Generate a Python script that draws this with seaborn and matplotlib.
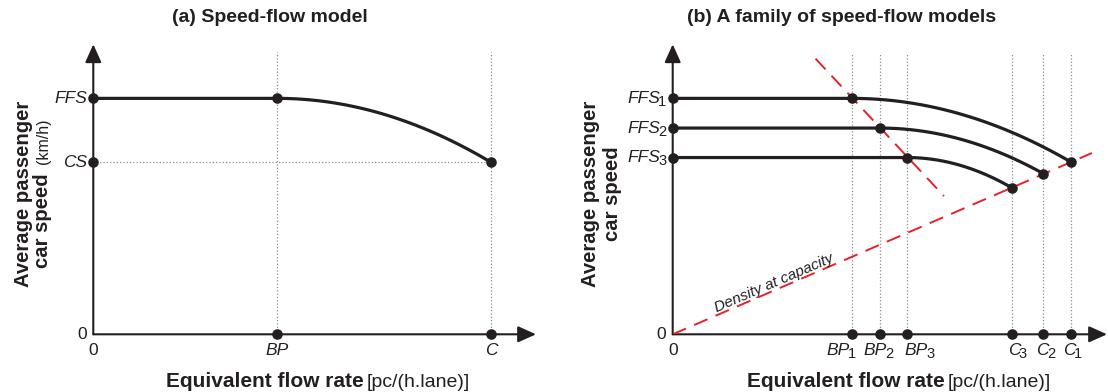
import numpy as np
import pandas as pd
import matplotlib.pyplot as plt
import seaborn as sns


# ======== values (flow in pc/(h.lane), speed in km/h) ========
# (a) one speed-flow model
ffs = 120.0
cs = 87.5
bp = 1110
cap = 2400
curve_exp = 2.0

# (b) a family of speed-flow models
fam_ffs = [120.0, 104.9, 89.9]
fam_cs = [87.6, 81.7, 74.6]
fam_bp = [1080, 1249, 1415]
fam_cap = [2404, 2237, 2045]
fam_idx = ['1', '2', '3']

# red dashed guides in (b)
dens_end_flow = 2530
bp_line_flow = [862, 1637]
bp_line_speed = [140.2, 70.3]

# axis extents (arrow tips)
left_xmax, left_ymax = 2672, 147.5
right_xmax, right_ymax = 2621, 147.5

# label nudges in points, so crowded tick labels do not overlap
bp_nudge = [-9.5, -3.0, 6.5]
c_nudge = [-1.5, -0.5, 2.0]

INK = '#231f20'
RED = '#e8202a'
GRID = '#8c8c8c'
TICK_FS = 12.5
SUB_FS = 10.5
SUB_GAP = -1.3

sns.set_theme(style='white')
plt.rcParams['font.family'] = ['Liberation Sans', 'DejaVu Sans']


def model_curve(f, c_s, b, c):
    flow = np.concatenate([[0.0], np.linspace(b, c, 80)])
    speed = np.where(flow <= b, f, f - (f - c_s) * ((flow - b) / (c - b)) ** curve_exp)
    return pd.DataFrame({'flow': flow, 'speed': speed})


def draw_axes_arrows(ax, xmax, ymax):
    arrow = dict(arrowstyle='-|>,head_length=1.0,head_width=0.45', color=INK, lw=1.5,
                 mutation_scale=11, shrinkA=0, shrinkB=0)
    ax.annotate('', xy=(xmax, 0), xytext=(0, 0), arrowprops=arrow, annotation_clip=False)
    ax.annotate('', xy=(0, ymax), xytext=(0, 0), arrowprops=arrow, annotation_clip=False)


def add_sub(ax, main, sub):
    ax.annotate(sub, xy=(1, 0), xycoords=main, xytext=(SUB_GAP, 0), textcoords='offset points',
                ha='left', va='baseline', fontsize=SUB_FS, color=INK, annotation_clip=False)


def ylab(ax, text, y, sub=None, italic=True):
    dx = -4.5 - (0.556 * SUB_FS + SUB_GAP if sub else 0)
    t = ax.annotate(text, xy=(0, y), xytext=(dx, 0), textcoords='offset points',
                    ha='right', va='center', fontsize=TICK_FS, color=INK,
                    style='italic' if italic else 'normal', annotation_clip=False)
    if sub:
        add_sub(ax, t, sub)


def xlab(ax, text, x, sub=None, nudge=0.0, italic=True):
    t = ax.annotate(text, xy=(x, 0), xytext=(nudge, -12), textcoords='offset points',
                    ha='center', va='center', fontsize=TICK_FS, color=INK,
                    style='italic' if italic else 'normal', annotation_clip=False)
    if sub:
        add_sub(ax, t, sub)


def dots(ax, xs, ys):
    sns.scatterplot(x=xs, y=ys, ax=ax, s=58, color=INK, edgecolor=INK, linewidth=0,
                    zorder=6, clip_on=False, legend=False)


W, H = 1108, 392
fig = plt.figure(figsize=(W / 100, H / 100), dpi=100)

# pixel geometry of the two plotting areas (origin and arrow tips)
ax1 = fig.add_axes([93.3 / W, (H - 334.3) / H, (536 - 93.3) / W, 290 / H])
ax2 = fig.add_axes([672.7 / W, (H - 334.3) / H, (1107 - 672.7) / W, 290 / H])

for ax, xmax, ymax in [(ax1, left_xmax, left_ymax), (ax2, right_xmax, right_ymax)]:
    ax.set_xlim(0, xmax)
    ax.set_ylim(0, ymax)
    ax.axis('off')
    draw_axes_arrows(ax, xmax, ymax)

# ======== (a) Speed-flow model ========
ax1.plot([bp, bp], [0, left_ymax * 0.975], ls=':', color=GRID, lw=0.9, zorder=1)
ax1.plot([cap, cap], [0, left_ymax * 0.975], ls=':', color=GRID, lw=0.9, zorder=1)
ax1.plot([0, cap], [cs, cs], ls=':', color=GRID, lw=0.9, zorder=1)

sns.lineplot(data=model_curve(ffs, cs, bp, cap), x='flow', y='speed', ax=ax1,
             color=INK, lw=2.3, sort=False, zorder=4)
ax1.set_xlim(0, left_xmax)
ax1.set_ylim(0, left_ymax)

dots(ax1, [0, bp, cap, 0, bp, cap], [ffs, ffs, cs, cs, 0, 0])

ylab(ax1, 'FFS', ffs)
ylab(ax1, 'CS', cs)
ylab(ax1, '0', 0, italic=False)
xlab(ax1, '0', 0, italic=False)
xlab(ax1, 'BP', bp)
xlab(ax1, 'C', cap)

# ======== (b) A family of speed-flow models ========
for b, c in zip(fam_bp, fam_cap):
    ax2.plot([b, b], [0, right_ymax * 0.965], ls=':', color=GRID, lw=0.9, zorder=1)
    ax2.plot([c, c], [0, right_ymax * 0.965], ls=':', color=GRID, lw=0.9, zorder=1)

dens = fam_cap[0] / fam_cs[0]
sns.lineplot(x=[0, dens_end_flow], y=[0, dens_end_flow / dens], ax=ax2, color=RED,
             lw=1.4, zorder=3).lines[-1].set_dashes((7.5, 4.5))
sns.lineplot(x=bp_line_flow, y=bp_line_speed, ax=ax2, color=RED, lw=1.4,
             zorder=3).lines[-1].set_dashes((7.5, 4.5))

for f, c_s, b, c in zip(fam_ffs, fam_cs, fam_bp, fam_cap):
    sns.lineplot(data=model_curve(f, c_s, b, c), x='flow', y='speed', ax=ax2,
                 color=INK, lw=2.3, sort=False, zorder=4)
ax2.set_xlim(0, right_xmax)
ax2.set_ylim(0, right_ymax)

dots(ax2, [0] * 3 + fam_bp + fam_cap + fam_bp + fam_cap,
     fam_ffs + fam_ffs + fam_cs + [0] * 6)

for f, i in zip(fam_ffs, fam_idx):
    ylab(ax2, 'FFS', f, sub=i)
ylab(ax2, '0', 0, italic=False)
xlab(ax2, '0', 0, italic=False)
for b, i, n in zip(fam_bp, fam_idx, bp_nudge):
    xlab(ax2, 'BP', b, sub=i, nudge=n)
for c, i, n in zip(fam_cap, fam_idx, c_nudge):
    xlab(ax2, 'C', c, sub=i, nudge=n)

txt_flow = 630
ax2.annotate('Density at capacity', xy=(txt_flow, txt_flow / dens), xytext=(0, 0),
             textcoords='offset points', ha='center', va='bottom', rotation=23.4,
             rotation_mode='anchor', fontsize=11, style='italic', color=INK)

# ======== titles and axis titles ========
fig.text(270 / W, 1 - 18 / H, '(a) Speed-flow model', ha='center', va='center',
         fontsize=14, fontweight='bold', color=INK)
fig.text(842 / W, 1 - 18 / H, '(b) A family of speed-flow models', ha='center',
         va='center', fontsize=14, fontweight='bold', color=INK)

for split in [364, 945]:
    fig.text(split / W, 5 / H, 'Equivalent flow rate', ha='right', va='baseline',
             fontsize=15, fontweight='bold', color=INK)
    fig.text((split + 3) / W, 5 / H, '[pc/(h.lane)]', ha='left', va='baseline',
             fontsize=14, color=INK)

fig.text(24 / W, 1 - 194 / H, 'Average passenger', rotation=90, ha='center',
         va='center', fontsize=14.6, fontweight='bold', color=INK)
fig.text(43 / W, 1 - 221 / H, 'car speed', rotation=90, ha='center', va='center',
         fontsize=14.6, fontweight='bold', color=INK)
fig.text(44 / W, 1 - 141 / H, '(km/h)', rotation=90, ha='center', va='center',
         fontsize=11.5, color=INK)

fig.text(591 / W, 1 - 194 / H, 'Average passenger', rotation=90, ha='center',
         va='center', fontsize=14.6, fontweight='bold', color=INK)
fig.text(612 / W, 1 - 194 / H, 'car speed', rotation=90, ha='center', va='center',
         fontsize=14.6, fontweight='bold', color=INK)

fig.savefig('out.png', dpi=100)
